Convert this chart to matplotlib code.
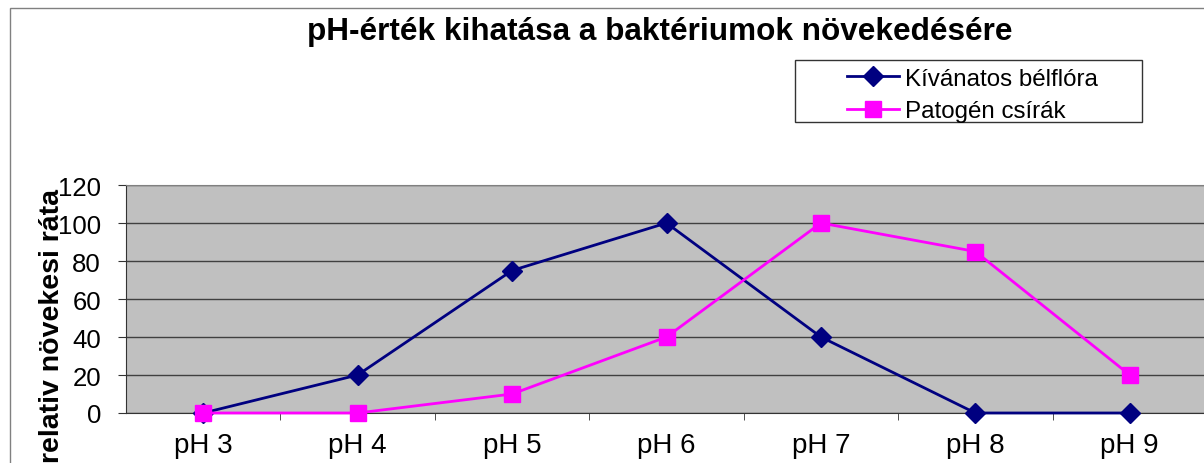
import matplotlib
matplotlib.use('Agg')
import matplotlib.pyplot as plt
from matplotlib.patches import Rectangle

# Data
categories = ['pH 3', 'pH 4', 'pH 5', 'pH 6', 'pH 7', 'pH 8', 'pH 9']
kivanatos = [0, 20, 75, 100, 40, 0, 0]
patogen = [0, 0, 10, 40, 100, 85, 20]
y_ticks = [0, 20, 40, 60, 80, 100, 120]

plt.rcParams['font.family'] = ['Liberation Sans', 'DejaVu Sans']

W, H = 1204, 464
fig = plt.figure(figsize=(W / 100, H / 100), dpi=100)

# outer chart border (cut off on the right and bottom like the reference)
fig.patches.append(Rectangle((10 / W, -0.1), 1.2, (H - 9) / H + 0.1,
                             transform=fig.transFigure, fill=False,
                             edgecolor='#808080', linewidth=1))

# plot area in pixel coords
left, right, top, bottom = 126, 1207, 186, 414
ax = fig.add_axes([left / W, (H - bottom) / H, (right - left) / W, (bottom - top) / H])
ax.set_facecolor('#C0C0C0')

x = list(range(len(categories)))
ax.plot(x, kivanatos, color='#000080', linewidth=2, marker='D', markersize=10,
        label='Kívánatos bélflóra', zorder=3, clip_on=False)
ax.plot(x, patogen, color='#FF00FF', linewidth=2, marker='s', markersize=11,
        label='Patogén csírák', zorder=3, clip_on=False)

ax.set_xlim(-0.5, len(categories) - 0.5)
ax.set_ylim(0, 120)
ax.set_yticks(y_ticks)
ax.set_yticklabels([str(v) for v in y_ticks], fontsize=18.5)
ax.yaxis.grid(True, color='#404040', linewidth=1)
ax.set_axisbelow(True)

ax.set_xticks(x)
ax.set_xticklabels(categories, fontsize=20)
ax.tick_params(axis='x', length=0, pad=14)
ax.set_xticks([i + 0.5 for i in x[:-1]], minor=True)
ax.tick_params(axis='x', which='minor', length=5, color='#333333', direction='out')
ax.tick_params(axis='y', length=6, color='#333333', direction='out', pad=12)

ax.spines['right'].set_visible(False)
ax.spines['top'].set_color('#808080')
ax.spines['left'].set_color('#333333')
ax.spines['bottom'].set_color('#333333')

fig.text(52 / W, 1 - 326 / H, 'relativ növekesi ráta', rotation=90, fontsize=20.5,
         fontweight='bold', ha='center', va='center')

fig.text(660 / W, 1 - 32 / H, 'pH-érték kihatása a baktériumok növekedésére',
         fontsize=22.7, fontweight='bold', ha='center', va='center')

# legend: box drawn by hand, entries placed inside it
lx0, lx1, ly0, ly1 = 795, 1142, 61, 123
fig.patches.append(Rectangle((lx0 / W, 1 - ly1 / H), (lx1 - lx0) / W, (ly1 - ly0) / H,
                             transform=fig.transFigure, facecolor='white',
                             edgecolor='#333333', linewidth=1, zorder=5))
leg = fig.legend(loc='upper left', bbox_to_anchor=(842 / W, 1 - 64 / H),
                 fontsize=17.4, frameon=False, borderpad=0.2,
                 handlelength=2.15, handletextpad=0.25, labelspacing=0.43,
                 borderaxespad=0)
leg.set_zorder(6)

fig.savefig('out.png', dpi=100)
